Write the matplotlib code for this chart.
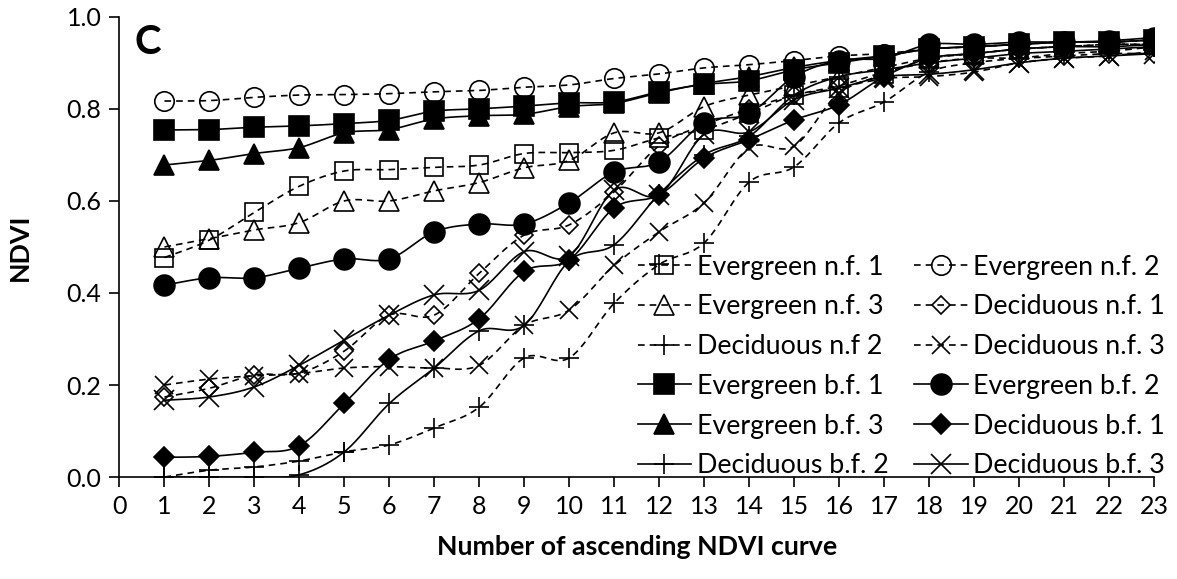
import numpy as np
import matplotlib
matplotlib.use("Agg")
import matplotlib.pyplot as plt
from matplotlib.lines import Line2D

plt.rcParams['font.family'] = ['Lato', 'DejaVu Sans']

curve_no = list(range(1, 24))

# NDVI per ascending curve, non-burned (n.f.) and burned (b.f.) forests
evergreen_nf1 = [0.477, 0.515, 0.575, 0.632, 0.665, 0.668, 0.673, 0.678, 0.703, 0.705, 0.71, 0.737,
                 0.755, 0.79, 0.83, 0.845, 0.875, 0.91, 0.92, 0.93, 0.935, 0.94, 0.94]
evergreen_nf2 = [0.817, 0.818, 0.825, 0.83, 0.831, 0.833, 0.837, 0.84, 0.847, 0.852, 0.866, 0.876,
                 0.889, 0.896, 0.905, 0.915, 0.92, 0.93, 0.935, 0.94, 0.945, 0.945, 0.95]
evergreen_nf3 = [0.5, 0.518, 0.537, 0.553, 0.6, 0.6, 0.622, 0.64, 0.672, 0.688, 0.748, 0.748,
                 0.805, 0.83, 0.85, 0.87, 0.89, 0.91, 0.92, 0.93, 0.935, 0.94, 0.94]
deciduous_nf1 = [0.174, 0.193, 0.222, 0.226, 0.274, 0.352, 0.352, 0.443, 0.526, 0.548, 0.62, 0.72,
                 0.765, 0.8, 0.83, 0.85, 0.88, 0.9, 0.91, 0.91, 0.915, 0.92, 0.92]
deciduous_nf2 = [0.0, 0.015, 0.022, 0.035, 0.055, 0.07, 0.107, 0.152, 0.259, 0.259, 0.378, 0.462,
                 0.509, 0.641, 0.674, 0.77, 0.815, 0.88, 0.9, 0.91, 0.92, 0.925, 0.935]
deciduous_nf3 = [0.2, 0.213, 0.22, 0.225, 0.237, 0.24, 0.237, 0.243, 0.33, 0.363, 0.46, 0.533,
                 0.596, 0.715, 0.719, 0.835, 0.865, 0.87, 0.88, 0.9, 0.91, 0.915, 0.925]
evergreen_bf1 = [0.754, 0.755, 0.76, 0.763, 0.768, 0.775, 0.795, 0.8, 0.806, 0.813, 0.815, 0.837,
                 0.853, 0.861, 0.885, 0.9, 0.915, 0.93, 0.935, 0.94, 0.945, 0.945, 0.95]
evergreen_bf2 = [0.417, 0.433, 0.433, 0.454, 0.474, 0.474, 0.533, 0.55, 0.55, 0.596, 0.663, 0.685,
                 0.77, 0.79, 0.87, 0.905, 0.91, 0.94, 0.94, 0.945, 0.945, 0.948, 0.955]
evergreen_bf3 = [0.678, 0.688, 0.703, 0.716, 0.748, 0.755, 0.778, 0.785, 0.788, 0.805, 0.812, 0.835,
                 0.855, 0.87, 0.89, 0.905, 0.915, 0.93, 0.935, 0.94, 0.945, 0.945, 0.95]
deciduous_bf1 = [0.043, 0.045, 0.054, 0.068, 0.16, 0.256, 0.296, 0.344, 0.447, 0.472, 0.585, 0.613,
                 0.693, 0.733, 0.776, 0.809, 0.87, 0.91, 0.92, 0.93, 0.935, 0.935, 0.94]
deciduous_bf2 = [0.0, 0.0, 0.0, 0.005, 0.055, 0.16, 0.237, 0.318, 0.33, 0.47, 0.505, 0.615,
                 0.7, 0.74, 0.83, 0.87, 0.885, 0.9, 0.91, 0.92, 0.925, 0.93, 0.935]
deciduous_bf3 = [0.167, 0.174, 0.196, 0.243, 0.298, 0.352, 0.396, 0.406, 0.49, 0.48, 0.624, 0.613,
                 0.745, 0.75, 0.82, 0.845, 0.87, 0.875, 0.885, 0.9, 0.91, 0.915, 0.92]

labels = ['Evergreen n.f. 1', 'Evergreen n.f. 2', 'Evergreen n.f. 3',
          'Deciduous n.f. 1', 'Deciduous n.f 2', 'Deciduous n.f. 3',
          'Evergreen b.f. 1', 'Evergreen b.f. 2', 'Evergreen b.f. 3',
          'Deciduous b.f. 1', 'Deciduous b.f. 2', 'Deciduous b.f. 3']
series = [evergreen_nf1, evergreen_nf2, evergreen_nf3,
          deciduous_nf1, deciduous_nf2, deciduous_nf3,
          evergreen_bf1, evergreen_bf2, evergreen_bf3,
          deciduous_bf1, deciduous_bf2, deciduous_bf3]

# (marker, size, filled, dashed)
styles = [('s', 13, False, True), ('o', 14, False, True), ('^', 14, False, True),
          ('D', 9, False, True), ('+', 14, False, True), ('x', 13, False, True),
          ('s', 14, True, False), ('o', 15, True, False), ('^', 14, True, False),
          ('D', 10, True, False), ('+', 14, False, False), ('x', 14, False, False)]


def smooth(x, y, n=20):
    # excel-like smoothed line (cardinal spline through the points)
    x = np.asarray(x, float)
    y = np.asarray(y, float)
    px = np.concatenate([[x[0]], x, [x[-1]]])
    py = np.concatenate([[y[0]], y, [y[-1]]])
    t = np.linspace(0, 1, n, endpoint=False)[:, None]
    out = []
    for i in range(len(x) - 1):
        p0 = np.array([px[i], py[i]])
        p1 = np.array([px[i + 1], py[i + 1]])
        p2 = np.array([px[i + 2], py[i + 2]])
        p3 = np.array([px[i + 3], py[i + 3]])
        c1 = p1 + (p2 - p0) / 6
        c2 = p2 - (p3 - p1) / 6
        seg = ((1 - t) ** 3) * p1 + 3 * ((1 - t) ** 2) * t * c1 + 3 * (1 - t) * t ** 2 * c2 + t ** 3 * p2
        out.append(seg)
    out.append(np.array([[x[-1], y[-1]]]))
    out = np.vstack(out)
    return out[:, 0], out[:, 1]


fig = plt.figure(figsize=(11.77, 5.79), dpi=100)
ax = fig.add_axes([0.1015, 0.176, 0.879, 0.795])

handles = []
for vals, lab, (mk, ms, filled, dashed) in zip(series, labels, styles):
    ls = (0, (4, 3)) if dashed else '-'
    lw = 1.2
    sx, sy = smooth(curve_no, vals)
    ax.plot(sx, sy, color='black', lw=lw, ls=ls, zorder=2)
    mfc = 'black' if filled else 'none'
    ax.plot(curve_no, vals, ls='none', marker=mk, ms=ms, mfc=mfc, mec='black',
            mew=1.2, zorder=3)
    handles.append(Line2D([], [], color='black', lw=lw, ls=ls, marker=mk, ms=ms,
                          mfc=mfc, mec='black', mew=1.2))

ax.set_xlim(0, 23)
ax.set_ylim(0, 1.0)
ax.set_xticks(range(0, 24))
ax.set_yticks(np.arange(0, 1.01, 0.2))
ax.yaxis.set_major_formatter(matplotlib.ticker.FormatStrFormatter('%.1f'))
ax.tick_params(direction='out', length=7, width=1.2, labelsize=18, pad=6)
for s in ['top', 'right']:
    ax.spines[s].set_visible(False)
for s in ['left', 'bottom']:
    ax.spines[s].set_linewidth(1.2)

ax.set_xlabel('Number of ascending NDVI curve', fontsize=19.3, fontweight='bold', labelpad=12)
ax.set_ylabel('NDVI', fontsize=19.3, fontweight='bold', labelpad=25)
ax.text(0.015, 0.985, 'C', transform=ax.transAxes, fontsize=29, fontweight='bold',
        va='top', ha='left')

# legend is laid out row by row: reorder for matplotlib's column filling
order = [0, 2, 4, 6, 8, 10, 1, 3, 5, 7, 9, 11]
ax.legend([handles[i] for i in order], [labels[i] for i in order], ncol=2,
          frameon=False, fontsize=19.3, handlelength=2.0, handletextpad=0.2,
          columnspacing=0.97, labelspacing=0.55, borderpad=0, borderaxespad=0,
          loc='lower right', bbox_to_anchor=(0.99, 0.174), bbox_transform=fig.transFigure)

fig.savefig('out.png', dpi=100)
